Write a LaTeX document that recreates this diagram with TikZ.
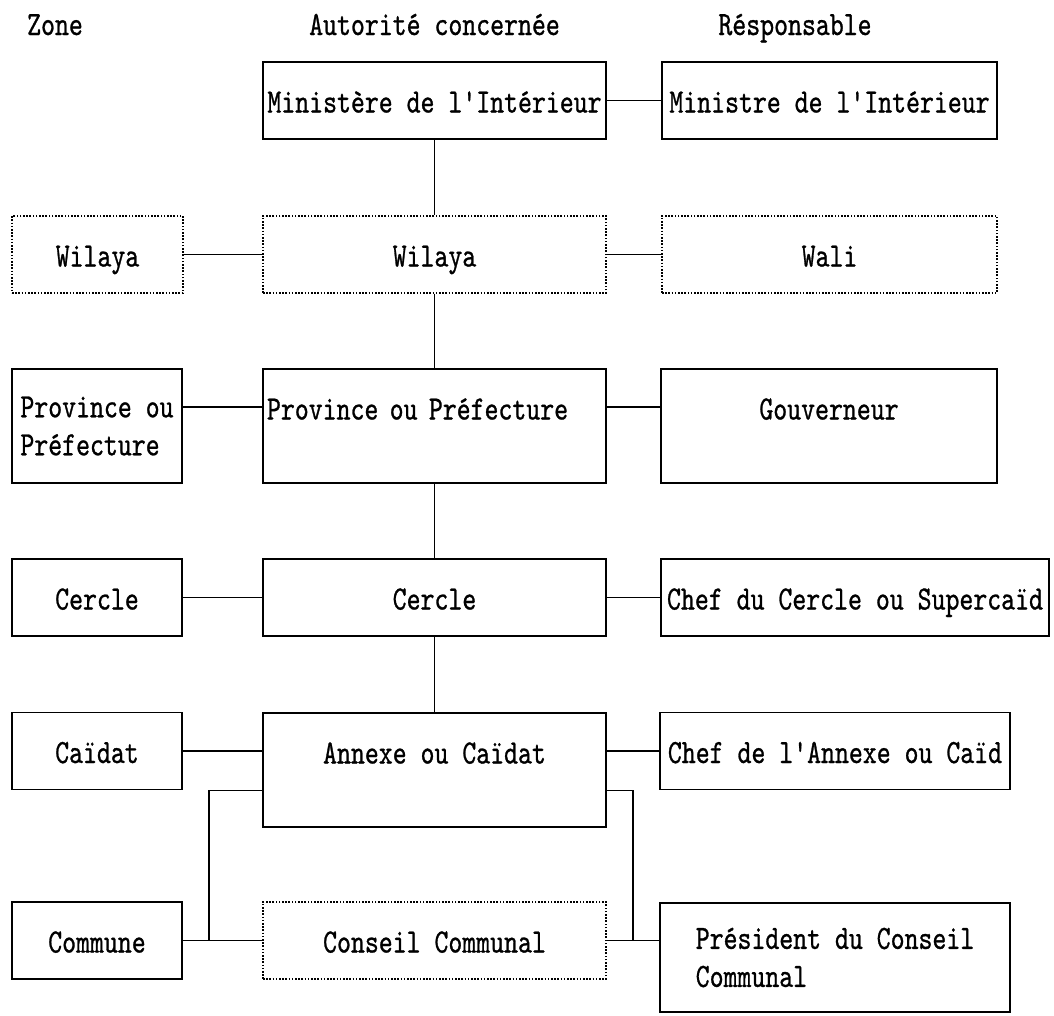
\documentclass[tikz,border=0pt]{standalone}
\usepackage{fontspec}
\newfontfamily\chartfont{lmmono10-regular.otf}[FakeStretch=0.78,FakeBold=0.8]
\usetikzlibrary{calc}
\tikzset{
  frame/.style={draw, line width=1.8pt, inner sep=0pt, minimum height=77pt},
  orgbox/.style={frame, text height=30pt, text depth=6pt},
  orgdot/.style={orgbox, line width=1.4pt, dash pattern=on 1.6pt off 1.6pt},
  orgtall/.style={orgbox, minimum height=114pt, text depth=43pt},
  tie/.style={line width=1.6pt},
  colhead/.style={anchor=base}
}
\begin{document}
\begin{tikzpicture}[x=1pt, y=-1pt, every node/.style={font=\chartfont\fontsize{34pt}{38pt}\selectfont}]
  \fill[white] (0,0) rectangle (1054,1015);
  \useasboundingbox (0,0) rectangle (1054,1015);
  % column titles
  \node[colhead] (hzone) at (55,35) {Zone};
  \node[colhead] (hauth) at (434.5,35) {Autorité concernée};
  \node[colhead] (hresp) at (795,35) {Résponsable};
  % boxes
  \node[orgbox,minimum width=343pt] (mint) at (434.5,100.5) {Ministère de l'Intérieur};
  \node[orgbox,minimum width=335pt] (mnst) at (829.5,100.5) {Ministre de l'Intérieur};
  \node[orgdot,minimum width=171pt] (wilz) at (97.5,254.5) {Wilaya};
  \node[orgdot,minimum width=343pt] (wila) at (434.5,254.5) {Wilaya};
  \node[orgdot,minimum width=335pt] (wali) at (829.5,254.5) {Wali};
  \node[frame,minimum width=170pt,minimum height=114pt,align=left,inner xsep=4pt] (provz) at (97,426) {Province ou\\Préfecture};
  \node[orgtall,minimum width=343pt,text width=335pt,align=left] (prov) at (434.5,426) {Province ou Préfecture};
  \node[orgtall,minimum width=336pt] (gouv) at (829,426) {Gouverneur};
  \node[orgbox,minimum width=170pt] (cerz) at (97,597.5) {Cercle};
  \node[orgbox,minimum width=343pt] (cerc) at (434.5,597.5) {Cercle};
  \node[orgbox,minimum width=388pt] (chfc) at (855,597.5) {Chef du Cercle ou Supercaïd};
  \node[orgbox,minimum width=170pt] (caiz) at (97,751) {Caïdat};
  \node[orgtall,minimum width=343pt] (anx) at (434.5,770) {Annexe ou Caïdat};
  \node[orgbox,minimum width=350pt] (chfa) at (835,751) {Chef de l'Annexe ou Caïd};
  \node[orgbox,minimum width=170pt] (comz) at (97,940.5) {Commune};
  \node[orgdot,minimum width=343pt] (cons) at (434.5,940.5) {Conseil Communal};
  \node[frame,minimum width=350pt,minimum height=109pt,align=left] (pres) at (835,957.5) {Président du Conseil\\Communal};
  % links
  \draw[tie] (mint.east) -- (mnst.west);
  \draw[tie] (mint.south) -- (wila.north);
  \draw[tie] (wilz.east) -- (wila.west);
  \draw[tie] (wila.east) -- (wali.west);
  \draw[tie] (wila.south) -- (prov.north);
  \draw[tie] ([yshift=19pt]provz.east) -- ([yshift=19pt]prov.west);
  \draw[tie] ([yshift=19pt]prov.east) -- ([yshift=19pt]gouv.west);
  \draw[tie] (prov.south) -- (cerc.north);
  \draw[tie] (cerz.east) -- (cerc.west);
  \draw[tie] (cerc.east) -- (chfc.west);
  \draw[tie] (cerc.south) -- (anx.north);
  \draw[tie] (caiz.east) -- (caiz.east -| anx.west);
  \draw[tie] (anx.east |- chfa.west) -- (chfa.west);
  \draw[tie] (comz.east) -- (cons.west);
  \draw[tie] (cons.east) -- (cons.east -| pres.west);
  \coordinate (lfork) at (209,940.5);
  \coordinate (rfork) at (633,940.5);
  \draw[tie] (anx.west |- caiz.south) -| (lfork);
  \draw[tie] (anx.east |- chfa.south) -| (rfork);
\end{tikzpicture}
\end{document}
